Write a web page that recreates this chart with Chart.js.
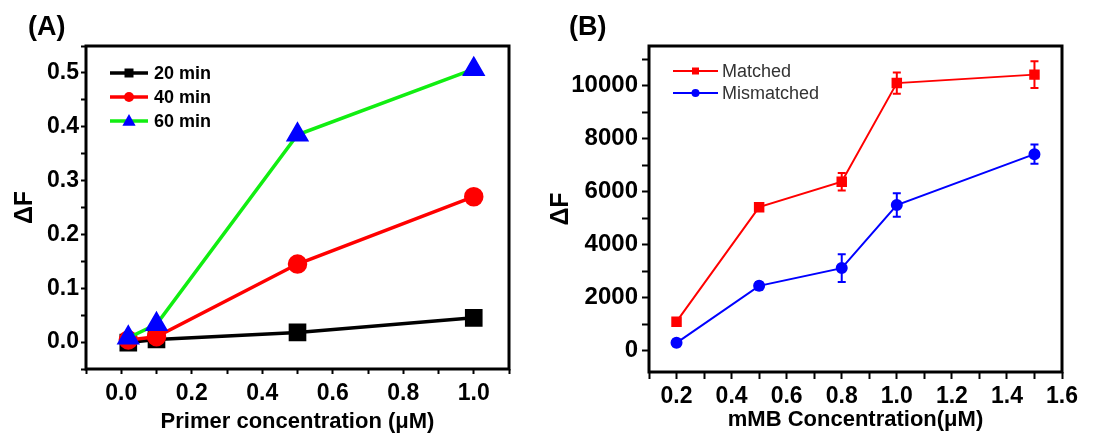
<!DOCTYPE html>
<html>
<head>
<meta charset="utf-8">
<script src="https://cdn.jsdelivr.net/npm/chart.js@4.4.1/dist/chart.umd.min.js"></script>
<style>
  html, body { margin: 0; padding: 0; background: #fff; }
  #wrap { position: relative; width: 1113px; height: 439px; overflow: hidden; }
  .panel { position: absolute; top: 0; height: 439px; }
  #panel-a { left: 0; width: 556px; }
  #panel-b { left: 540px; width: 573px; }
</style>
</head>
<body>
<div id="wrap">
  <div class="panel" id="panel-a"><canvas id="primer-chart"></canvas></div>
  <div class="panel" id="panel-b"><canvas id="mmb-chart"></canvas></div>
</div>
<script>
// Panel A: signal change vs primer concentration at three reaction times
var primerConc = [0.02, 0.1, 0.5, 1.0];
var dF20 = [-0.001, 0.005, 0.018, 0.045];
var dF40 = [0.004, 0.010, 0.145, 0.270];
var dF60 = [0.008, 0.033, 0.385, 0.507];
var timeLabels = ['20 min', '40 min', '60 min'];

// Panel B: matched vs mismatched target, mean and error
var mmbConc = [0.2, 0.5, 0.8, 1.0, 1.5];
var matched = [1100, 5420, 6380, 10100, 10420];
var matchedErr = [120, 150, 330, 400, 500];
var mismatched = [300, 2450, 3120, 5500, 7420];
var mismatchedErr = [130, 150, 520, 440, 360];
var targetLabels = ['Matched', 'Mismatched'];

var FONT = 'Arial, "Liberation Sans", sans-serif';
Chart.defaults.font.family = FONT;
Chart.defaults.color = '#000';

function xy(xs, ys) {
  return xs.map(function (x, i) { return { x: x, y: ys[i] }; });
}

// one tick on every whole multiple of step between the axis bounds
function stepTicks(step) {
  return function (scale) {
    var ticks = [];
    var first = Math.ceil(scale.min / step - 1e-9);
    var last = Math.floor(scale.max / step + 1e-9);
    for (var k = first; k <= last; k++) ticks.push({ value: k * step });
    scale.ticks = ticks;
  };
}

function drawMarker(ctx, style, x, y, r) {
  ctx.beginPath();
  if (style === 'rect') {
    ctx.rect(x - r, y - r, 2 * r, 2 * r);
  } else if (style === 'triangle') {
    ctx.moveTo(x, y - r * 1.15);
    ctx.lineTo(x + r * 1.1, y + r * 0.8);
    ctx.lineTo(x - r * 1.1, y + r * 0.8);
    ctx.closePath();
  } else {
    ctx.arc(x, y, r, 0, Math.PI * 2);
  }
  ctx.fill();
}

// closed box around the plot area
var frame = {
  id: 'frame',
  beforeDatasetsDraw: function (chart) {
    var a = chart.chartArea, ctx = chart.ctx;
    ctx.save();
    ctx.lineWidth = 3;
    ctx.strokeStyle = '#000';
    ctx.strokeRect(a.left, a.top, a.right - a.left, a.bottom - a.top);
    ctx.restore();
  }
};

var errorBars = {
  id: 'errorBars',
  afterDatasetsDraw: function (chart) {
    var ctx = chart.ctx, xs = chart.scales.x, ys = chart.scales.y;
    chart.data.datasets.forEach(function (ds) {
      if (!ds.errors) return;
      ctx.save();
      ctx.strokeStyle = ds.borderColor;
      ctx.lineWidth = 2;
      ds.data.forEach(function (p, i) {
        var x = xs.getPixelForValue(p.x);
        var top = ys.getPixelForValue(p.y + ds.errors[i]);
        var bot = ys.getPixelForValue(p.y - ds.errors[i]);
        ctx.beginPath();
        ctx.moveTo(x, top); ctx.lineTo(x, bot);
        ctx.moveTo(x - 4, top); ctx.lineTo(x + 4, top);
        ctx.moveTo(x - 4, bot); ctx.lineTo(x + 4, bot);
        ctx.stroke();
      });
      ctx.restore();
    });
  }
};

// legend drawn inside the top-left corner of the plot
var insetLegend = {
  id: 'insetLegend',
  afterDraw: function (chart, args, opts) {
    var ctx = chart.ctx, a = chart.chartArea;
    ctx.save();
    chart.data.datasets.forEach(function (ds, i) {
      var y = a.top + opts.top + i * opts.rowGap;
      var x0 = a.left + opts.left, x1 = x0 + opts.lineLength;
      ctx.strokeStyle = ds.borderColor;
      ctx.lineWidth = ds.borderWidth;
      ctx.beginPath(); ctx.moveTo(x0, y); ctx.lineTo(x1, y); ctx.stroke();
      ctx.fillStyle = ds.pointBackgroundColor;
      drawMarker(ctx, ds.pointStyle, (x0 + x1) / 2, y, opts.markerSize[i]);
      ctx.fillStyle = opts.color;
      ctx.font = opts.font;
      ctx.textBaseline = 'middle';
      ctx.fillText(ds.label, x1 + opts.textGap, y + 1);
    });
    ctx.restore();
  }
};

var panelLabel = {
  id: 'panelLabel',
  afterDraw: function (chart, args, opts) {
    var ctx = chart.ctx;
    ctx.save();
    ctx.font = 'bold 27px ' + FONT;
    ctx.fillStyle = '#000';
    ctx.textBaseline = 'alphabetic';
    ctx.fillText(opts.text, opts.x, opts.y);
    ctx.restore();
  }
};

function tickGrid(len) {
  return { drawOnChartArea: false, tickLength: len, tickWidth: 2, tickColor: '#000' };
}

function oneDecimalEvery(n) {
  return function (v) {
    var k = Math.round(v * 10);
    return k % n === 0 ? (k / 10).toFixed(1) : '';
  };
}

// ---- Panel A ----
// order: later series are painted over earlier ones
new Chart(document.getElementById('primer-chart'), {
  type: 'line',
  data: {
    datasets: [{
      label: timeLabels[0],
      data: xy(primerConc, dF20),
      order: 3,
      borderColor: '#000000',
      pointBackgroundColor: '#000000',
      pointBorderColor: '#000000',
      pointStyle: 'rect',
      pointRadius: 10,
      borderWidth: 3.5
    }, {
      label: timeLabels[1],
      data: xy(primerConc, dF40),
      order: 2,
      borderColor: '#ff0000',
      pointBackgroundColor: '#ff0000',
      pointBorderColor: '#ff0000',
      pointStyle: 'circle',
      pointRadius: 8,
      borderWidth: 3.5
    }, {
      label: timeLabels[2],
      data: xy(primerConc, dF60),
      order: 1,
      borderColor: '#11ee11',
      pointBackgroundColor: '#0000ff',
      pointBorderColor: '#0000ff',
      pointStyle: 'triangle',
      pointRadius: 10,
      borderWidth: 3.5
    }]
  },
  options: {
    responsive: true,
    maintainAspectRatio: false,
    animation: false,
    layout: { padding: { top: 46, right: 47, left: 0, bottom: 0 } },
    scales: {
      x: {
        type: 'linear', min: -0.1, max: 1.1,
        afterFit: function (s) { s.height = 70; },
        afterBuildTicks: stepTicks(0.1),
        border: { display: false },
        grid: tickGrid(5),
        ticks: {
          autoSkip: false, maxRotation: 0, padding: 6,
          font: { size: 23, weight: 'bold' },
          callback: oneDecimalEvery(2)
        },
        title: {
          display: true, text: 'Primer concentration (μM)',
          font: { size: 22, weight: 'bold' }, padding: { top: 0, bottom: 4 }
        }
      },
      y: {
        type: 'linear', min: -0.05, max: 0.55,
        afterFit: function (s) { s.width = 86; },
        afterBuildTicks: stepTicks(0.05),
        border: { display: false },
        grid: tickGrid(5),
        ticks: {
          autoSkip: false, padding: 2,
          font: { size: 23, weight: 'bold' },
          callback: function (v) {
            return Math.round(v * 100) % 10 === 0 ? (Math.round(v * 10) / 10).toFixed(1) : '';
          }
        },
        title: {
          display: true, text: 'ΔF',
          font: { size: 25, weight: 'bold' }, padding: { top: 10, bottom: 0 }
        }
      }
    },
    plugins: {
      legend: { display: false },
      tooltip: { enabled: false },
      insetLegend: {
        left: 24, top: 27, rowGap: 24, lineLength: 38, textGap: 6,
        markerSize: [4.5, 5, 6], color: '#000', font: 'bold 18px ' + FONT
      },
      panelLabel: { text: '(A)', x: 28, y: 35 }
    }
  },
  plugins: [frame, insetLegend, panelLabel]
});

// ---- Panel B ----
new Chart(document.getElementById('mmb-chart'), {
  type: 'line',
  data: {
    datasets: [{
      label: targetLabels[0],
      data: xy(mmbConc, matched),
      errors: matchedErr,
      borderColor: '#ff0000',
      pointBackgroundColor: '#ff0000',
      pointBorderColor: '#ff0000',
      pointStyle: 'rect',
      pointRadius: 6,
      borderWidth: 2
    }, {
      label: targetLabels[1],
      data: xy(mmbConc, mismatched),
      errors: mismatchedErr,
      borderColor: '#0000ff',
      pointBackgroundColor: '#0000ff',
      pointBorderColor: '#0000ff',
      pointStyle: 'circle',
      pointRadius: 5,
      borderWidth: 2
    }]
  },
  options: {
    responsive: true,
    maintainAspectRatio: false,
    animation: false,
    layout: { padding: { top: 46, right: 51, left: 0, bottom: 0 } },
    scales: {
      x: {
        type: 'linear', min: 0.1, max: 1.6,
        afterFit: function (s) { s.height = 67; },
        afterBuildTicks: stepTicks(0.1),
        border: { display: false },
        grid: tickGrid(7),
        ticks: {
          autoSkip: false, maxRotation: 0, padding: 4,
          font: { size: 23, weight: 'bold' },
          callback: oneDecimalEvery(2)
        },
        title: {
          display: true, text: 'mMB Concentration(μM)',
          font: { size: 22, weight: 'bold' }, padding: { top: 0, bottom: 6 }
        }
      },
      y: {
        type: 'linear', min: -800, max: 11500,
        afterFit: function (s) { s.width = 109; },
        afterBuildTicks: stepTicks(1000),
        border: { display: false },
        grid: tickGrid(7),
        ticks: {
          autoSkip: false, padding: 4,
          font: { size: 24, weight: 'bold' },
          callback: function (v) { return Math.round(v) % 2000 === 0 ? String(Math.round(v)) : ''; }
        },
        title: {
          display: true, text: 'ΔF',
          font: { size: 25, weight: 'bold' }, padding: { top: 6, bottom: 0 }
        }
      }
    },
    plugins: {
      legend: { display: false },
      tooltip: { enabled: false },
      insetLegend: {
        left: 24, top: 25, rowGap: 22, lineLength: 45, textGap: 4,
        markerSize: [3.5, 4], color: '#333', font: '18px ' + FONT
      },
      panelLabel: { text: '(B)', x: 29, y: 35 }
    }
  },
  plugins: [frame, errorBars, insetLegend, panelLabel]
});
</script>
</body>
</html>
